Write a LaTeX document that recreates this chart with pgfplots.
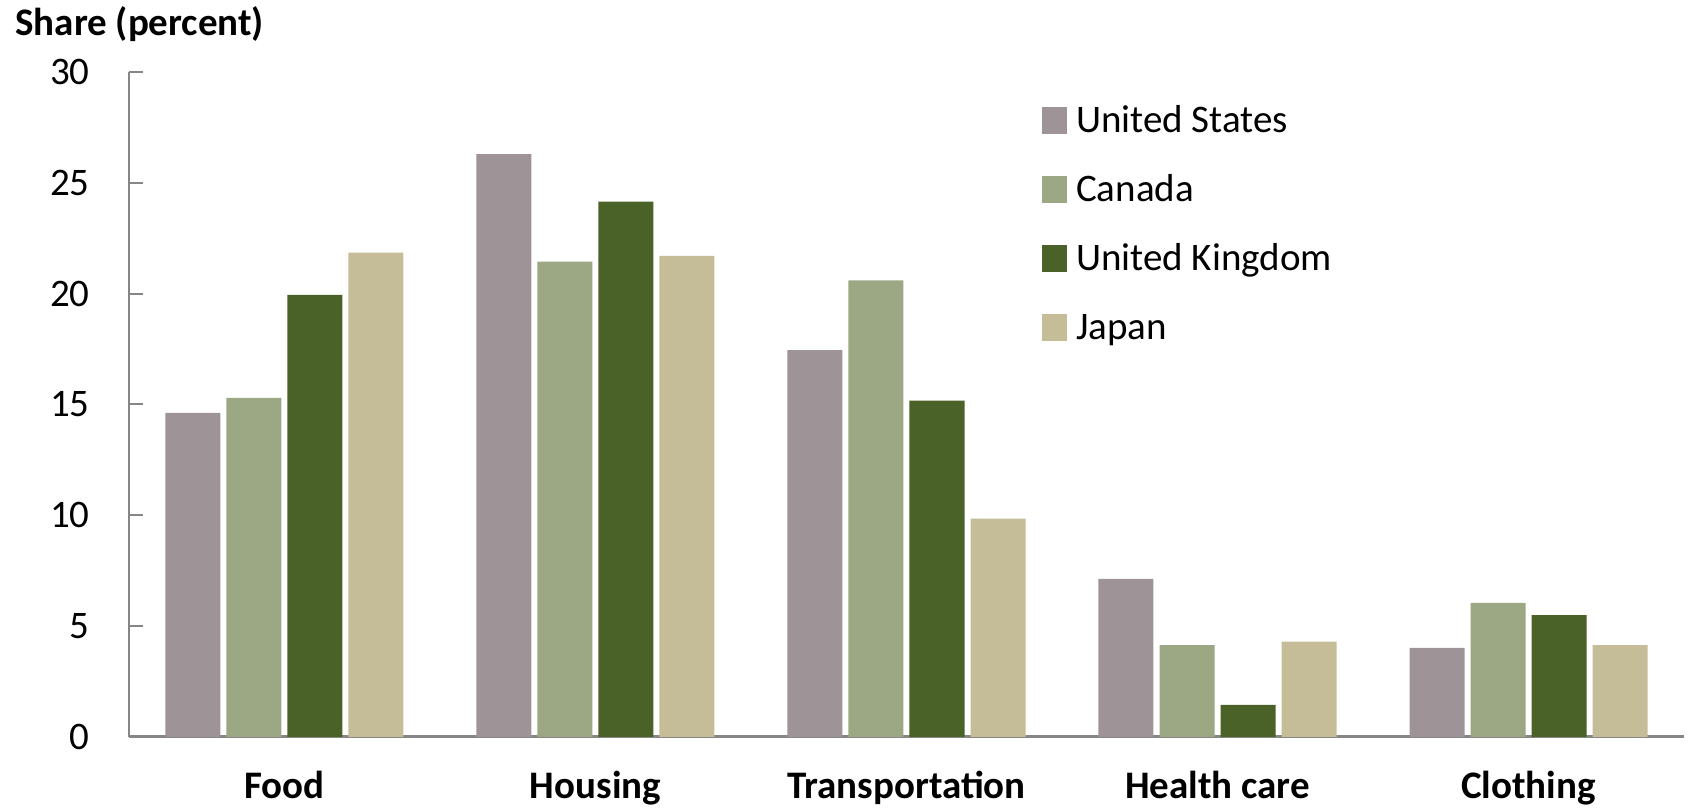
\documentclass[border=0pt]{standalone}
\usepackage{fontspec}
\setmainfont{Carlito}
\usepackage{pgfplots}
\pgfplotsset{compat=1.18}
\definecolor{cUS}{RGB}{158,147,150}
\definecolor{cCA}{RGB}{155,168,131}
\definecolor{cUK}{RGB}{74,97,40}
\definecolor{cJP}{RGB}{196,189,151}
\definecolor{axgray}{RGB}{134,134,134}
\newcommand{\fs}{\fontsize{19.5}{23}\selectfont}
\begin{document}
\begin{tikzpicture}
\useasboundingbox (-64.5pt,-35.5pt) rectangle (782.5pt,368.5pt);
\begin{axis}[
  at={(0pt,0pt)}, anchor=south west,
  scale only axis, width=777.5pt, height=332.5pt,
  font=\fs,
  ybar=3pt, bar width=27.5pt,
  xmin=-0.5, xmax=4.5, ymin=0, ymax=30,
  xtick={0,1,2,3,4},
  xticklabels={Food,Housing,Transportation,Health care,Clothing},
  ytick={0,5,10,15,20,25,30},
  axis x line=bottom, axis y line=left,
  x axis line style={-, axgray, line width=1.5pt},
  y axis line style={-, axgray, line width=1pt},
  tick align=inside,
  major tick length=7pt,
  ytick style={axgray, line width=1pt},
  xtick style={draw=none},
  xticklabel style={anchor=base, yshift=-31pt, font=\fs\bfseries},
  yticklabel style={anchor=east, inner sep=0pt, xshift=-19.5pt},
  /pgf/number format/assume math mode=true,
  legend style={at={(0.587,0.9486)}, anchor=north west, draw=none, fill=none,
    inner sep=0pt, row sep=18.5pt, column sep=4.5pt,
    font=\fs,
    nodes={inner sep=0pt, text height=13pt, text depth=3pt}},
  legend cell align=left,
  legend image code/.code={\fill[#1] (0pt,-5.8pt) rectangle (12.5pt,7.7pt);},
]
\addplot[fill=cUS, draw=none] coordinates {(0,14.62) (1,26.3) (2,17.45) (3,7.13) (4,4.02)};
\addplot[fill=cCA, draw=none] coordinates {(0,15.3) (1,21.45) (2,20.6) (3,4.15) (4,6.05)};
\addplot[fill=cUK, draw=none] coordinates {(0,19.95) (1,24.15) (2,15.17) (3,1.45) (4,5.5)};
\addplot[fill=cJP, draw=none] coordinates {(0,21.85) (1,21.7) (2,9.85) (3,4.3) (4,4.15)};
\legend{United States,Canada,United Kingdom,Japan}
\end{axis}
\node[anchor=base west, inner sep=0pt, font=\fs\bfseries] at (-57pt,350.5pt) {Share (percent)};
\end{tikzpicture}
\end{document}
